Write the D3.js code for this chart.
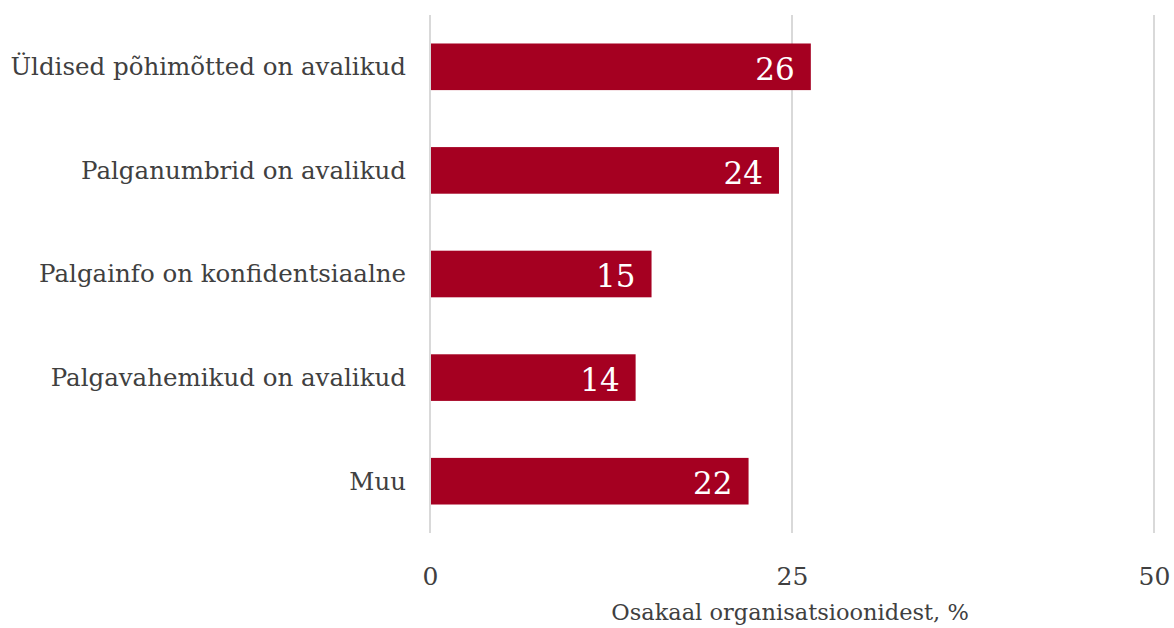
<!DOCTYPE html>
<html>
<head>
<meta charset="utf-8">
<script src="https://cdn.jsdelivr.net/npm/d3@7"></script>
<style>
  body { margin: 0; background: #fff; }
  svg text { font-family: "DejaVu Serif", Georgia, serif; }
</style>
</head>
<body>
<svg id="chart" width="1174" height="628"></svg>
<script>
// Chart data
const categories = [
    "Üldised põhimõtted on avalikud",
    "Palganumbrid on avalikud",
    "Palgainfo on konfidentsiaalne",
    "Palgavahemikud on avalikud",
    "Muu"
];
const shares = [26.3, 24.1, 15.3, 14.2, 22.0];
const tickValues = [0, 25, 50];
const axisTitle = "Osakaal organisatsioonidest, %";

const svg = d3.select("#chart");

// Plot area
const plot = { left: 430, right: 1154, top: 15, bottom: 533 };

const x = d3.scaleLinear()
    .domain([0, 50])
    .range([plot.left, plot.right]);

const y = d3.scaleBand()
    .domain(categories)
    .range([plot.top, plot.bottom])
    .paddingInner(0.55)
    .paddingOuter(0.275);

// Gridlines
svg.append("g")
    .selectAll("line")
    .data(tickValues)
    .join("line")
    .attr("x1", d => x(d))
    .attr("x2", d => x(d))
    .attr("y1", plot.top)
    .attr("y2", plot.bottom)
    .attr("stroke", "#d9d9d9")
    .attr("stroke-width", 2);

// Bars
const data = categories.map((c, i) => ({ name: c, value: shares[i] }));

svg.append("g")
    .selectAll("rect")
    .data(data)
    .join("rect")
    .attr("x", x(0) + 1)
    .attr("y", d => y(d.name))
    .attr("width", d => x(d.value) - x(0) - 1)
    .attr("height", y.bandwidth())
    .attr("fill", "#a50021");

// Value labels
svg.append("g")
    .selectAll("text")
    .data(data)
    .join("text")
    .attr("x", d => x(d.value) - 16)
    .attr("y", d => y(d.name) + y.bandwidth() / 2 + 2)
    .attr("dy", "0.36em")
    .attr("text-anchor", "end")
    .attr("fill", "#fff")
    .attr("font-size", 31)
    .text(d => Math.round(d.value));

// Category labels
svg.append("g")
    .selectAll("text")
    .data(categories)
    .join("text")
    .attr("x", plot.left - 24)
    .attr("y", d => y(d) + y.bandwidth() / 2)
    .attr("dy", "0.34em")
    .attr("text-anchor", "end")
    .attr("fill", "#404040")
    .attr("font-size", 24.5)
    .text(d => d);

// X axis tick labels
const xAxis = d3.axisBottom(x)
    .tickValues(tickValues)
    .tickSize(0)
    .tickPadding(0);

const axisG = svg.append("g")
    .attr("transform", `translate(0, ${plot.bottom + 34})`)
    .call(xAxis);
axisG.select(".domain").remove();
axisG.selectAll("text")
    .attr("font-family", "DejaVu Serif, Georgia, serif")
    .attr("font-size", 25)
    .attr("fill", "#404040");

// Axis title
svg.append("text")
    .attr("x", (plot.left + plot.right) / 2 - 2)
    .attr("y", 620)
    .attr("text-anchor", "middle")
    .attr("fill", "#404040")
    .attr("font-size", 22.5)
    .text(axisTitle);
</script>
</body>
</html>
